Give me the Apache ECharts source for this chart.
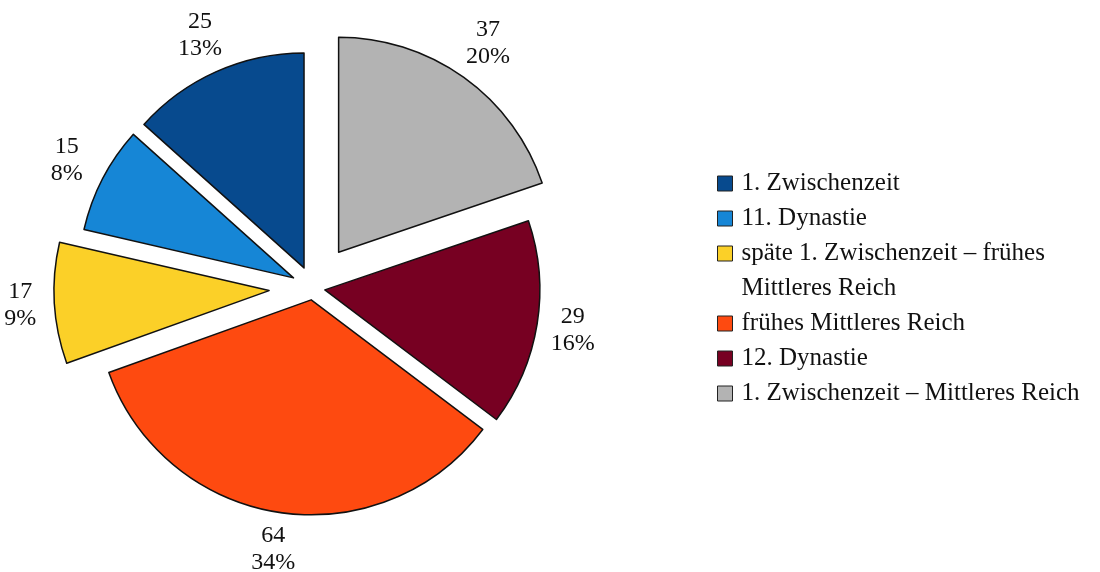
<!DOCTYPE html>
<html><head><meta charset="utf-8">
<script src="https://cdn.jsdelivr.net/npm/echarts@6/dist/echarts.min.js"></script>
<style>html,body{margin:0;padding:0;background:#fff}#c{width:1100px;height:572px}</style>
</head><body><div id="c"></div>
<script>
// ---- data ----
const categories = [
  '1. Zwischenzeit',
  '11. Dynastie',
  'späte 1. Zwischenzeit – frühes Mittleres Reich',
  'frühes Mittleres Reich',
  '12. Dynastie',
  '1. Zwischenzeit – Mittleres Reich'
];
const counts = [25, 15, 17, 64, 29, 37];

// ---- styles ----
const colors = ['#074a8e', '#1686d6', '#fbd028', '#fe4a10', '#770022', '#b3b3b3'];
const explode = [22, 22, 44, 12, 12, 44];   // how far each slice is pulled out
const FONT = 'Liberation Serif';
const R = 215, CENTER = [313, 288], START = 90;
const LABEL_W = 48, GAP = 13, HALF_W = 20, HALF_H = 21;
const LEGEND_SIZE = 25, LEGEND_LINE = 35, LEGEND_MAX = 355;

const total = counts.reduce((a, b) => a + b, 0);
let cum = 0;
const mids = counts.map(v => { const m = START + (cum + v / 2) / total * 360; cum += v; return m * Math.PI / 180; });

const groups = [...new Set(explode)];
const series = groups.map(off => ({
  type: 'pie',
  center: CENTER,
  radius: R,
  startAngle: START,
  clockwise: false,
  selectedMode: 'multiple',
  selectedOffset: off,
  avoidLabelOverlap: false,
  percentPrecision: 0,
  animation: false,
  emphasis: { disabled: true },
  label: {
    position: 'outside',
    formatter: '{v|{c}}\n{v|{d}%}',
    distanceToLabelLine: -LABEL_W / 2,
    rich: { v: { width: LABEL_W, align: 'center', fontFamily: FONT, fontSize: 24, lineHeight: 27, color: '#111' } }
  },
  labelLine: { show: false, length2: 0 },
  data: categories.map((name, i) => {
    const own = explode[i] === off;
    const dx = Math.cos(mids[i]), dy = Math.sin(mids[i]);
    return {
      name: name,
      value: counts[i],
      selected: own,
      itemStyle: own ? { color: colors[i], borderColor: '#111', borderWidth: 1.5 }
                     : { color: 'rgba(0,0,0,0)', borderWidth: 0 },
      label: { show: own },
      labelLine: { show: false, length: GAP + HALF_W * Math.abs(dx) + HALF_H * Math.abs(dy) }
    };
  })
}));

// wrap long legend names; icon stays level with the first line
const measure = document.createElement('canvas').getContext('2d');
measure.font = LEGEND_SIZE + 'px "' + FONT + '"';
function wrap(name) {
  const words = name.split(' ');
  const lines = [];
  let cur = '';
  words.forEach(w => {
    const t = cur ? cur + ' ' + w : w;
    if (cur && measure.measureText(t).width > LEGEND_MAX) { lines.push(cur); cur = w; }
    else cur = t;
  });
  lines.push(cur);
  return lines;
}
function legendFormatter(name) {
  const lines = wrap(name);
  return lines.length > 1 ? '{pad|}\n' + lines.join('\n') : name;
}

const legendBase = {
  orient: 'vertical', left: 717, padding: 0, itemGap: 0,
  itemWidth: 15, itemHeight: 15, icon: 'rect', selectedMode: false,
  itemStyle: { borderColor: '#222', borderWidth: 1 },
  formatter: legendFormatter,
  textStyle: { fontFamily: FONT, fontSize: LEGEND_SIZE, lineHeight: LEGEND_LINE, color: '#111',
               padding: [0, 0, 0, 4],
               rich: { pad: { height: LEGEND_LINE, lineHeight: LEGEND_LINE } } }
};
const legendItem = i => ({ name: categories[i], itemStyle: { color: colors[i] } });

const chart = echarts.init(document.getElementById('c'));
chart.setOption({
  backgroundColor: '#fff',
  animation: false,
  legend: [
    Object.assign({}, legendBase, { top: 166, data: [legendItem(0), legendItem(1)] }),
    Object.assign({}, legendBase, { top: 201, data: [legendItem(2), legendItem(3), legendItem(4), legendItem(5)] })
  ],
  series: series
});
</script>
</body></html>
